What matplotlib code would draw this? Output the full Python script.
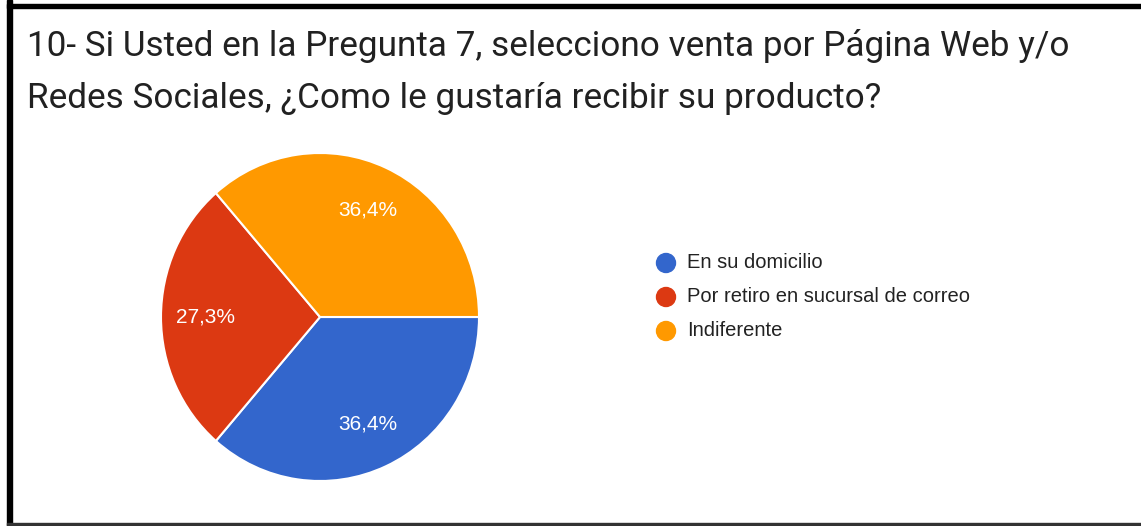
import matplotlib
matplotlib.use("Agg")
import matplotlib.pyplot as plt
from matplotlib.patches import Ellipse, Rectangle

title_lines = ["10- Si Usted en la Pregunta 7, selecciono venta por Página Web y/o",
               "Redes Sociales, ¿Como le gustaría recibir su producto?"]
categories = ["En su domicilio", "Por retiro en sucursal de correo", "Indiferente"]
percentages = [36.4, 27.3, 36.4]
colors = ["#3366cc", "#dc3912", "#ff9900"]

W, H = 1141, 526
fig = plt.figure(figsize=(W / 100, H / 100), dpi=100)
fig.patch.set_facecolor("white")

def fx(px):
    return px / W

def fy(py):
    return 1 - py / H

# frame
fig.patches.append(Rectangle((fx(7), fy(526)), fx(5), 1, transform=fig.transFigure,
                             color="black", zorder=5))
fig.patches.append(Rectangle((fx(7), fy(8)), 1, 4 / H, transform=fig.transFigure,
                             color="black", zorder=5))
fig.patches.append(Rectangle((fx(7), fy(525)), 1, 2 / H, transform=fig.transFigure,
                             color="#333333", zorder=5))

# title
for i, line in enumerate(title_lines):
    fig.text(fx(27), fy(56 + i * 52), line, fontsize=25.3, family="Roboto",
             color="#212121", va="baseline", ha="left")

# pie
cx, cy, rx, ry = 320, 317, 159, 164
ax = fig.add_axes([fx(cx - rx), fy(cy + ry), 2 * rx / W, 2 * ry / H])
wedges, texts, autotexts = ax.pie(
    percentages, colors=colors, startangle=0, counterclock=False,
    autopct=lambda p: f"{p:.1f}%".replace(".", ","), pctdistance=0.72,
    wedgeprops=dict(edgecolor="white", linewidth=1.5),
    textprops=dict(color="white", fontsize=15, family="Liberation Sans"))
ax.set_xlim(-1.0, 1.0)
ax.set_ylim(-1.0, 1.0)
ax.set_aspect("auto")
ax.axis("off")

# legend
for i, (lab, col) in enumerate(zip(categories, colors)):
    y = 263 + i * 34
    fig.patches.append(Ellipse((fx(666), fy(y)), 19 / W, 19 / H,
                               transform=fig.transFigure, color=col, zorder=3))
    fig.text(fx(687), fy(y), lab, fontsize=14.5, family="Liberation Sans",
             color="#222222", va="center", ha="left")

fig.savefig("out.png", dpi=100, facecolor="white")
